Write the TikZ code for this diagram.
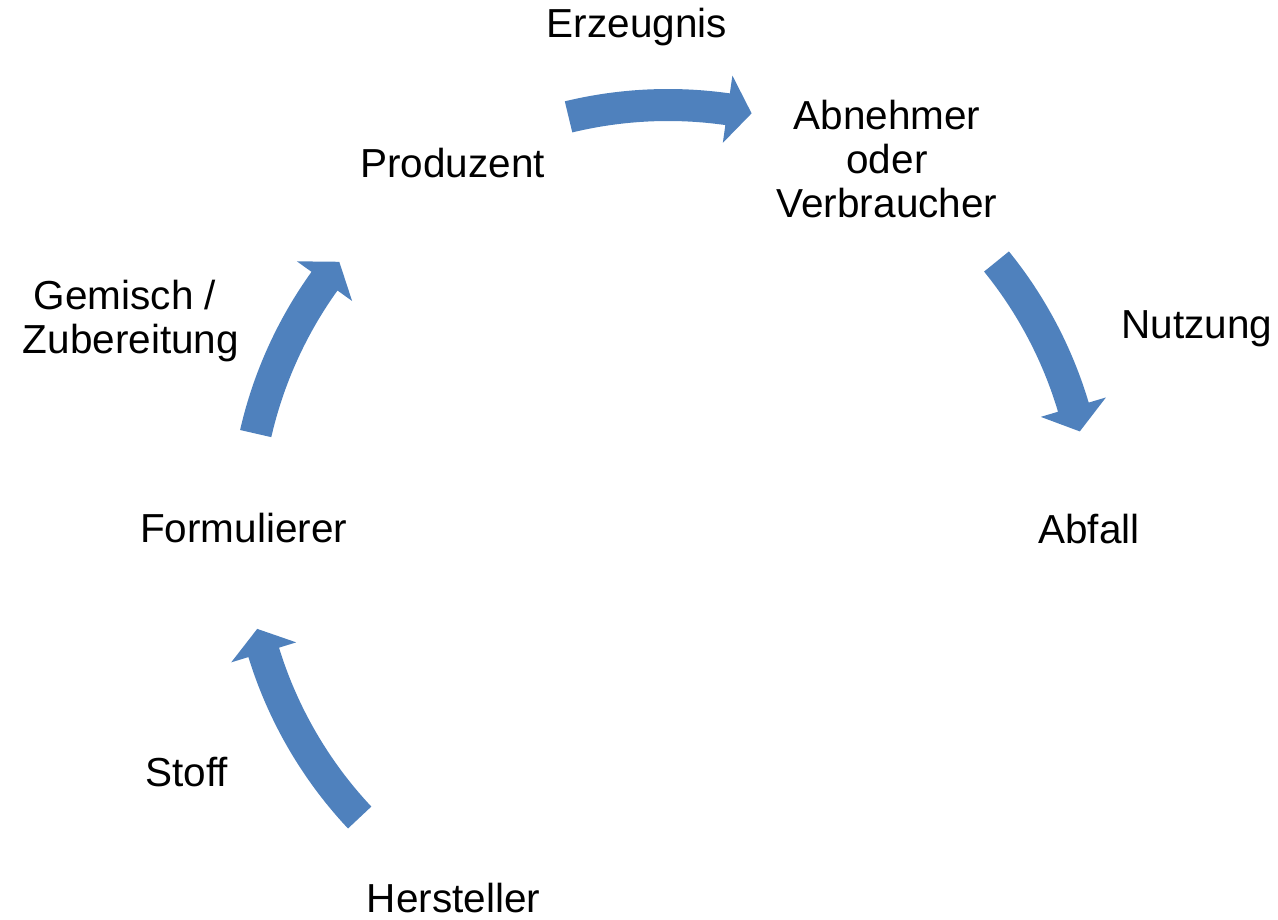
\documentclass[tikz,border=0pt]{standalone}
\usepackage{fontspec}
\setmainfont{Liberation Sans}
\definecolor{arrowblue}{HTML}{4F81BD}
\newcommand\cyclearrow[3]{%
  \path[carrow] (#1:439pt) arc[start angle=#1, end angle=#2, radius=439pt]
    -- (#2:457pt) -- (#3:423pt) -- (#2:389pt) -- (#2:407pt)
    arc[start angle=#2, end angle=#1, radius=407pt] -- cycle;}
\tikzset{
  carrow/.style={fill=arrowblue, draw=none},
  lbl/.style={font=\fontsize{40.5}{44}\selectfont, inner sep=0pt, text=black},
}
\begin{document}
\begin{tikzpicture}[x=1pt, y=1pt]
\useasboundingbox (0,0) rectangle (1278,919);
\coordinate (C) at (668,391);
% nodes
\node[lbl, anchor=base] (hersteller) at (453.5,6) {Hersteller};
\node[lbl, anchor=base] (formulierer) at (243.7,376) {Formulierer};
\node[lbl, anchor=base] (produzent) at (452.5,741.3) {Produzent};
\node[lbl, align=center] (abnehmer) at (887,760.2) {Abnehmer\\oder\\Verbraucher};
\node[lbl, anchor=base] (abfall) at (1089,375.5) {Abfall};
% arrow labels
\node[lbl, anchor=base] (stoff) at (186.7,132.3) {Stoff};
\node[lbl, align=center] (gemisch) at (131,598.2) {Gemisch /\hspace*{12pt}\\Zubereitung};
\node[lbl, anchor=base] (erzeugnis) at (637,881.3) {Erzeugnis};
\node[lbl, anchor=base] (nutzung) at (1197,580.7) {Nutzung};
% curved block arrows
\begin{scope}[shift={(C)}]
  \cyclearrow{223.2}{197.1}{193.8}
  \cyclearrow{167.1}{144.3}{141.0}
  \cyclearrow{103.6}{81.9}{78.6}
  \cyclearrow{39.05}{16.6}{13.2}
\end{scope}
\end{tikzpicture}
\end{document}
